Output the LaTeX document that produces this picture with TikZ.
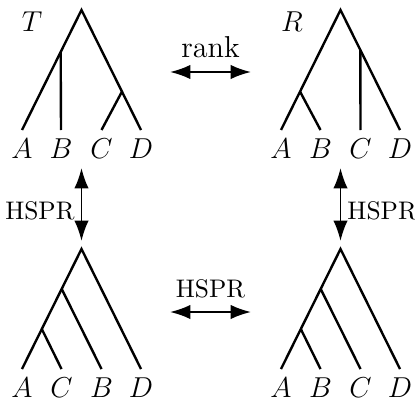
\documentclass[tikz,border=0pt]{standalone}
\usepackage{amsmath,amssymb}
\usetikzlibrary{arrows.meta,calc}
\tikzset{
  branch/.style={line width=1pt},
  leaf/.style={anchor=north,font=\large},
  treename/.style={font=\large},
  move/.style={<->,>={Latex[length=8.5pt,width=6pt]},line width=0.8pt},
  movelabel/.style={inner sep=2.5pt,font=\fontsize{10.6pt}{12pt}\selectfont}
}
\begin{document}
\begin{tikzpicture}[x=0.41667pt,y=-0.41667pt]
\useasboundingbox (0,0) rectangle (415,401);
% tree T
\node[treename] (Tname) at (32,22) {$T$};
\coordinate (t0) at (81.5,10);
\node[leaf] (tA) at (22,130) {$A$};
\node[leaf] (tB) at (61,130) {$B$};
\node[leaf] (tC) at (101.5,130) {$C$};
\node[leaf] (tD) at (141,130) {$D$};
\coordinate (tb) at ($(t0)!0.35!(tA.north)$);
\coordinate (tcd) at ($(t0)!0.68!(tD.north)$);
\draw[branch] (tA.north) -- (t0) -- (tD.north);
\draw[branch] (tb) -- (tB.north);
\draw[branch] (tcd) -- (tC.north);
% tree R
\node[treename] (Rname) at (292,22) {$R$};
\coordinate (r0) at (340.5,10);
\node[leaf] (rA) at (281,130) {$A$};
\node[leaf] (rB) at (320.5,130) {$B$};
\node[leaf] (rC) at (360.5,130) {$C$};
\node[leaf] (rD) at (400,130) {$D$};
\coordinate (rab) at ($(r0)!0.68!(rA.north)$);
\coordinate (rc) at ($(r0)!0.333!(rD.north)$);
\draw[branch] (rA.north) -- (r0) -- (rD.north);
\draw[branch] (rab) -- (rB.north);
\draw[branch] (rc) -- (rC.north);
% bottom left tree
\coordinate (l0) at (81.5,249);
\node[leaf] (lA) at (22,369) {$A$};
\node[leaf] (lC) at (61.5,369) {$C$};
\node[leaf] (lB) at (101.5,369) {$B$};
\node[leaf] (lD) at (141,369) {$D$};
\coordinate (lacb) at ($(l0)!0.333!(lA.north)$);
\coordinate (lac) at ($(l0)!0.667!(lA.north)$);
\draw[branch] (lA.north) -- (l0) -- (lD.north);
\draw[branch] (lacb) -- (lB.north);
\draw[branch] (lac) -- (lC.north);
% bottom right tree
\coordinate (m0) at (340.5,249);
\node[leaf] (mA) at (281,369) {$A$};
\node[leaf] (mB) at (320.5,369) {$B$};
\node[leaf] (mC) at (360.5,369) {$C$};
\node[leaf] (mD) at (400,369) {$D$};
\coordinate (mabc) at ($(m0)!0.333!(mA.north)$);
\coordinate (mab) at ($(m0)!0.667!(mA.north)$);
\draw[branch] (mA.north) -- (m0) -- (mD.north);
\draw[branch] (mabc) -- (mC.north);
\draw[branch] (mab) -- (mB.north);
% moves
\coordinate (rankL) at (170,72);
\coordinate (rankR) at (251,72);
\draw[move] (rankL) -- node[movelabel,above=3pt,font=\fontsize{12.6pt}{14pt}\selectfont] (rankLab) {rank} (rankR);
\coordinate (hsprL) at (170,312);
\coordinate (hsprR) at (251,312);
\draw[move] (hsprL) -- node[movelabel,above=3pt] (hsprLab) {HSPR} (hsprR);
\coordinate (leftT) at (81.5,168);
\coordinate (leftB) at (81.5,241);
\draw[move] (leftT) -- node[movelabel,left,pos=0.58] (leftLab) {HSPR} (leftB);
\coordinate (rightT) at (340.5,168);
\coordinate (rightB) at (340.5,241);
\draw[move] (rightT) -- node[movelabel,right,pos=0.58] (rightLab) {HSPR} (rightB);
\end{tikzpicture}
\end{document}
